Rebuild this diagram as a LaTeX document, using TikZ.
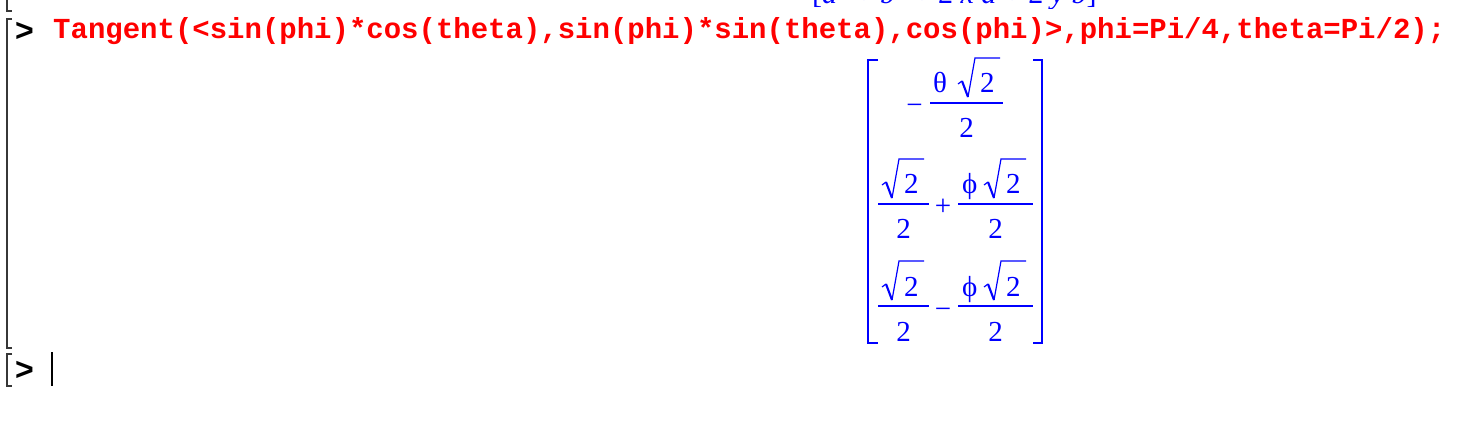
\documentclass[tikz,border=0pt]{standalone}
\usepackage{fontspec}
\setmainfont{Liberation Serif}
\newfontfamily\codefont{Liberation Mono}
\newfontfamily\promptfont{Liberation Sans}
\definecolor{mred}{RGB}{255,0,0}
\definecolor{mblue}{RGB}{0,0,255}
\definecolor{mgray}{RGB}{55,55,55}
\newcommand\myrad[2]{%
  \draw[radline] ({#1-22},{#2-9}) -- ({#1-18},{#2-12});
  \draw[radline,line width=2.1pt] ({#1-18},{#2-12}) -- ({#1-12},{#2+4});
  \draw[radline] ({#1-12},{#2+4}) -- ({#1-5},{#2-35}) -- ({#1+20},{#2-35});}
\begin{document}
\begin{tikzpicture}[x=1pt,y=-1pt,
  mtxt/.style={text=mblue, inner sep=0pt, font=\fontsize{29}{31}\selectfont},
  code/.style={text=mred, inner sep=0pt, anchor=base west, font=\codefont\bfseries\fontsize{29}{31}\selectfont},
  prompt/.style={inner sep=0pt, anchor=base west, font=\promptfont\bfseries\fontsize{32}{34}\selectfont},
  groupline/.style={draw=mgray, line width=1.3pt},
  mbracket/.style={draw=mblue, line width=1.5pt},
  fracbar/.style={draw=mblue, line width=1.5pt},
  radline/.style={draw=mblue, line width=1.2pt, line join=miter, line cap=butt}]
\useasboundingbox (0,0) rectangle (1470,422);
\fill[white] (0,0) rectangle (1470,422);

% previous output, clipped at top
\begin{scope}
  \clip (0,0) rectangle (1470,9);
  \node[mtxt, anchor=base west, font=\fontsize{30}{32}\selectfont] (prev) at (812,4)
    {[\textit{a}\textsuperscript{2} + \textit{b}\textsuperscript{2} + 2 \textit{x} \textit{a} + 2 \textit{y} \textit{b}]};
\end{scope}

% group brackets
\draw[groupline] (7,0) -- (7,11) -- (12,11);
\draw[groupline] (12,19) -- (7,19) -- (7,348) -- (12,348);
\draw[groupline] (12,354) -- (7,354) -- (7,386) -- (12,386);

% prompts and input
\node[prompt] (p1) at (15,42) {>};
\node[code] (cmd) at (53,39) {Tangent(<sin(phi)*cos(theta),sin(phi)*sin(theta),cos(phi)>,phi=Pi/4,theta=Pi/2);};
\node[prompt] (p2) at (15,380) {>};
\coordinate (cur1) at (52,352);
\coordinate (cur2) at (52,386);
\draw[line width=2pt] (cur1) -- (cur2);

% matrix brackets
\draw[mbracket] (878,60) -- (868,60) -- (868,343) -- (878,343);
\draw[mbracket] (1033,60) -- (1042,60) -- (1042,343) -- (1033,343);

% row 1
\node[mtxt, anchor=base] (r1m) at (914.5,115) {−};
\node[mtxt, anchor=base west] (r1t) at (933,93) {θ};
\myrad{980}{93}
\node[mtxt, anchor=base west] (r1n) at (980,93) {2};
\draw[fracbar] (930,103) -- (1003,103);
\node[mtxt, anchor=base] (r1d) at (966.5,138) {2};

% row 2
\myrad{904}{194}
\node[mtxt, anchor=base west] (r2n1) at (904,194) {2};
\draw[fracbar] (878,204) -- (929,204);
\node[mtxt, anchor=base] (r2d1) at (903.5,239) {2};
\node[mtxt, anchor=base] (r2op) at (943,216) {+};
\node[mtxt, anchor=base west] (r2f) at (962,194) {ϕ};
\myrad{1006}{194}
\node[mtxt, anchor=base west] (r2n2) at (1006,194) {2};
\draw[fracbar] (958,204) -- (1033,204);
\node[mtxt, anchor=base] (r2d2) at (995.5,239) {2};

% row 3
\myrad{904}{296}
\node[mtxt, anchor=base west] (r3n1) at (904,296) {2};
\draw[fracbar] (878,306) -- (929,306);
\node[mtxt, anchor=base] (r3d1) at (903.5,341) {2};
\node[mtxt, anchor=base] (r3op) at (943,318) {−};
\node[mtxt, anchor=base west] (r3f) at (962,296) {ϕ};
\myrad{1006}{296}
\node[mtxt, anchor=base west] (r3n2) at (1006,296) {2};
\draw[fracbar] (958,306) -- (1033,306);
\node[mtxt, anchor=base] (r3d2) at (995.5,341) {2};
\end{tikzpicture}
\end{document}
